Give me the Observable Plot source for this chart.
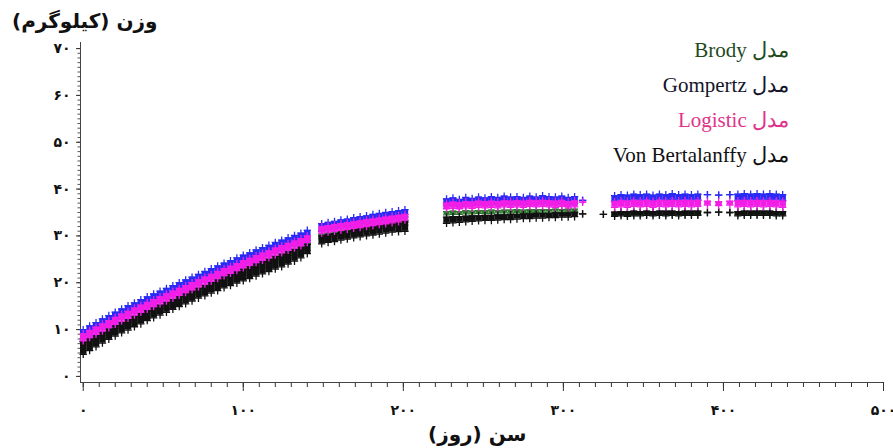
<!DOCTYPE html>
<html>
<head>
<meta charset="utf-8">
<script src="https://cdn.jsdelivr.net/npm/d3@7"></script>
<script src="https://cdn.jsdelivr.net/npm/@observablehq/plot@0.6"></script>
<style>
  body { margin: 0; background: #fff; }
  #wrap { position: relative; width: 893px; height: 448px; overflow: hidden; background: #fff; }
  #chart { position: absolute; left: 0; top: 0; }
  .ttl { position: absolute; font-family: "DejaVu Sans", sans-serif; font-weight: bold; font-size: 20px; color: #111; white-space: nowrap; line-height: 24px; }
  .legend { position: absolute; right: 104px; top: 33px; font-family: "Liberation Serif", "DejaVu Serif", serif; font-size: 21px; line-height: 35px; text-align: right; white-space: nowrap; }
</style>
</head>
<body>
<div id="wrap">
  <div id="chart"></div>
  <div class="ttl" dir="rtl" style="left:12px; top:9px;">وزن (کیلوگرم)</div>
  <div class="ttl" dir="rtl" style="left:428px; top:422px;">سن (روز)</div>
  <div class="legend" dir="rtl">
    <div style="color:#1e4a1e">مدل Brody</div>
    <div style="color:#15152a">مدل Gompertz</div>
    <div style="color:#e0338a">مدل Logistic</div>
    <div style="color:#111">مدل Von Bertalanffy</div>
  </div>
</div>
<script>
// Age (days) of the plotted points
const ages = [
  0,4,8,12,16,20,24,28,32,36,40,44,48,52,56,60,64,68,72,76,80,84,88,92,96,100,104,108,112,116,120,124,128,132,136,140,
  149,153,157,161,165,169,173,177,181,185,189,193,197,201,
  227,231,235,239,243,247,251,255,259,263,267,271,275,279,283,287,291,295,299,303,307,312,325,
  332,336,340,344,348,352,356,360,364,368,372,376,380,384,390,397,404,409,413,417,421,425,429,433,437
];

// Gompertz (blue) – upper / lower edge of predicted weights (kg)
const gompertzHi = [
  10.0,10.8,11.5,12.3,13.0,13.7,14.4,15.1,15.7,16.4,17.0,17.6,18.2,18.8,19.4,20.0,20.6,21.2,21.8,22.4,23.0,23.6,24.2,24.7,25.3,25.9,26.4,27.0,27.5,28.0,28.6,29.1,29.6,30.1,30.6,31.2,
  32.6,32.9,33.1,33.4,33.6,33.9,34.1,34.3,34.6,34.8,35.0,35.2,35.4,35.6,
  37.9,38.1,37.8,38.2,38.0,38.3,38.1,38.4,38.2,38.5,38.3,38.4,38.2,38.5,38.3,38.6,38.4,38.3,38.5,38.2,38.4,37.6,null,
  38.6,38.8,38.7,38.9,38.8,38.9,38.7,38.9,38.8,39.0,38.8,38.9,38.8,38.9,38.8,38.7,38.8,38.9,39.0,38.9,39.0,38.9,39.0,38.9,38.8
];
const gompertzLo = [
  8.0,8.7,9.4,10.1,10.8,11.5,12.2,12.9,13.5,14.2,14.8,15.4,16.0,16.6,17.2,17.8,18.4,19.0,19.6,20.2,20.8,21.4,22.0,22.5,23.1,23.7,24.2,24.8,25.3,25.8,26.4,26.9,27.4,27.9,28.4,29.0,
  31.0,31.3,31.5,31.8,32.0,32.3,32.5,32.7,33.0,33.2,33.4,33.6,33.8,34.0,
  36.4,36.6,36.3,36.7,36.5,36.8,36.6,36.9,36.7,37.0,36.8,36.9,36.7,37.0,36.8,37.1,36.9,36.8,37.0,36.7,36.9,37.6,null,
  37.4,37.6,37.5,37.7,37.6,37.7,37.5,37.7,37.6,37.8,37.6,37.7,37.6,37.7,38.8,38.7,38.8,37.6,37.8,37.7,37.8,37.7,37.8,37.7,37.6
];

// Logistic (magenta)
const logisticHi = [
  9.1,9.8,10.5,11.2,11.9,12.6,13.3,13.9,14.6,15.2,15.8,16.4,17.0,17.6,18.2,18.8,19.4,20.0,20.6,21.2,21.8,22.4,23.0,23.5,24.1,24.7,25.2,25.8,26.3,26.8,27.4,27.9,28.4,28.9,29.4,30.0,
  32.0,32.2,32.4,32.6,32.8,33.0,33.2,33.4,33.6,33.8,34.0,34.2,34.4,34.6,
  37.0,37.2,37.1,37.3,37.2,37.4,37.3,37.4,37.3,37.5,37.4,37.5,37.4,37.6,37.5,37.6,37.5,37.4,37.6,37.3,37.5,37.2,null,
  37.3,37.5,37.4,37.6,37.5,37.6,37.4,37.6,37.5,37.6,37.5,37.6,37.5,37.6,37.4,37.3,37.4,37.5,37.6,37.5,37.6,37.5,37.6,37.5,37.4
];
const logisticLo = [
  7.6,8.3,9.0,9.7,10.4,11.1,11.8,12.4,13.1,13.7,14.3,14.9,15.5,16.1,16.7,17.3,17.9,18.5,19.1,19.7,20.3,20.9,21.5,22.0,22.6,23.2,23.7,24.3,24.8,25.3,25.9,26.4,26.9,27.4,27.9,28.6,
  30.6,30.8,31.0,31.2,31.4,31.6,31.8,32.0,32.2,32.4,32.6,32.8,33.0,33.4,
  35.8,35.9,35.8,36.0,35.9,36.1,36.0,36.1,36.0,36.2,36.1,36.2,36.1,36.3,36.2,36.3,36.2,36.1,36.3,36.0,36.2,37.2,null,
  36.1,36.2,36.1,36.3,36.2,36.3,36.1,36.3,36.2,36.3,36.2,36.3,36.2,36.3,36.6,36.5,36.6,36.2,36.3,36.2,36.3,36.2,36.3,36.2,36.1
];

// Von Bertalanffy (black)
const bertalanffyHi = [
  7.4,8.0,8.7,9.4,10.1,10.8,11.5,12.1,12.8,13.4,14.0,14.6,15.2,15.8,16.4,17.0,17.6,18.2,18.8,19.4,20.0,20.6,21.2,21.7,22.3,22.9,23.4,24.0,24.5,25.0,25.6,26.1,26.6,27.1,27.6,28.2,
  30.0,30.3,30.5,30.8,31.0,31.3,31.5,31.7,32.0,32.2,32.4,32.6,32.8,33.0,
  34.0,34.1,34.1,34.2,34.3,34.3,34.4,34.4,34.5,34.5,34.6,34.6,34.7,34.7,34.8,34.8,34.8,34.9,34.9,34.9,35.0,34.7,34.6,
  35.1,35.2,35.2,35.3,35.2,35.3,35.2,35.3,35.3,35.3,35.2,35.3,35.3,35.3,35.0,35.1,35.0,35.2,35.3,35.3,35.3,35.3,35.3,35.2,35.2
];
const bertalanffyLo = [
  4.7,5.5,6.3,7.1,7.9,8.6,9.3,9.9,10.6,11.2,11.9,12.5,13.1,13.7,14.3,14.9,15.5,16.1,16.7,17.2,17.8,18.3,18.9,19.4,19.9,20.4,20.9,21.4,21.9,22.4,22.9,23.4,24.0,24.6,25.3,26.2,
  28.3,28.6,28.8,29.1,29.3,29.6,29.8,30.0,30.2,30.4,30.6,30.8,30.9,31.0,
  32.7,32.8,32.9,33.0,33.1,33.2,33.3,33.3,33.4,33.5,33.5,33.6,33.7,33.7,33.8,33.8,33.9,33.9,34.0,34.0,34.1,34.7,34.6,
  34.2,34.3,34.2,34.3,34.3,34.4,34.3,34.4,34.3,34.4,34.3,34.4,34.4,34.4,35.0,35.1,35.0,34.3,34.4,34.4,34.4,34.4,34.4,34.3,34.3
];

// Brody (green)
const brodyHi = [
  7.5,8.1,8.8,9.5,10.2,10.9,11.6,12.2,12.9,13.5,14.1,14.7,15.3,15.9,16.5,17.1,17.7,18.3,18.9,19.5,20.1,20.7,21.3,21.8,22.4,23.0,23.5,24.1,24.6,25.1,25.7,26.2,26.7,27.2,27.7,28.4,
  30.4,30.6,30.9,31.1,31.4,31.6,31.8,32.0,32.3,32.5,32.7,32.9,33.1,33.3,
  35.2,35.3,35.2,35.4,35.3,35.4,35.4,35.5,35.4,35.5,35.5,35.6,35.5,35.6,35.6,35.6,35.6,35.7,35.6,35.7,35.7,null,null,
  34.9,35.0,34.9,35.0,35.0,35.1,35.0,35.1,35.0,35.1,35.0,35.1,35.1,35.1,null,null,null,35.0,35.1,35.1,35.1,35.1,35.1,35.0,35.0
];
const brodyLo = [
  6.0,6.7,7.4,8.1,8.8,9.5,10.2,10.8,11.5,12.1,12.7,13.3,13.9,14.5,15.1,15.7,16.3,16.9,17.5,18.1,18.7,19.3,19.9,20.4,21.0,21.6,22.1,22.7,23.2,23.7,24.3,24.8,25.3,25.8,26.3,26.9,
  29.4,29.6,29.9,30.1,30.4,30.6,30.8,31.0,31.3,31.5,31.7,31.9,32.1,32.3,
  34.5,34.6,34.6,34.7,34.7,34.8,34.8,34.8,34.9,34.9,34.9,35.0,35.0,35.0,35.0,35.1,35.1,35.1,35.1,35.2,35.2,null,null,
  34.4,34.5,34.4,34.5,34.5,34.6,34.5,34.6,34.5,34.6,34.5,34.6,34.6,34.6,null,null,null,34.5,34.6,34.6,34.6,34.6,34.6,34.5,34.5
];

// Axis ticks and labels
const xTicks = [0, 100, 200, 300, 400, 500];
const yTicks = [0, 10, 20, 30, 40, 50, 60, 70];
const xMinor = d3.range(0, 501, 10);
const yMinor = d3.range(0, 71, 1);
const xDomain = [-1.7, 500];
const yDomain = [-1.3, 71.3];

const fa = d => String(d).replace(/\d/g, c => "۰۱۲۳۴۵۶۷۸۹"[+c]);

const rowsOf = (lo, hi) => ages.map((a, i) => ({age: a, lo: lo[i], hi: hi[i]})).filter(d => d.lo != null && d.hi != null);

const brody = rowsOf(brodyLo, brodyHi);
const vb = rowsOf(bertalanffyLo, bertalanffyHi);
const gomp = rowsOf(gompertzLo, gompertzHi);
const logi = rowsOf(logisticLo, logisticHi);

const GREEN = "#2f7a2f", BLACK = "#111111", BLUE = "#2a2af5", MAGENTA = "#f21ee6";

function band(rows, color, sw, r) {
  return [
    Plot.ruleX(rows, {x: "age", y1: "lo", y2: "hi", stroke: color, strokeWidth: sw}),
    Plot.dot(rows, {x: "age", y: "hi", symbol: "plus", r, stroke: color, strokeWidth: 1.3}),
    Plot.dot(rows, {x: "age", y: "lo", symbol: "plus", r, stroke: color, strokeWidth: 1.3})
  ];
}

const chart = Plot.plot({
  width: 893,
  height: 448,
  marginLeft: 80,
  marginRight: 10,
  marginTop: 42,
  marginBottom: 66,
  x: {domain: xDomain, label: null},
  y: {domain: yDomain, label: null},
  style: {fontFamily: "DejaVu Sans, sans-serif", background: "#fff"},
  marks: [
    Plot.axisX(xMinor, {tickSize: 5, tickFormat: () => "", stroke: "#333", label: null}),
    Plot.axisX(xTicks, {tickSize: 9, tickPadding: 14, tickFormat: fa, fontSize: 14, fontWeight: "bold", stroke: "#333", fill: "#111", label: null}),
    Plot.axisY(yMinor, {tickSize: 2.5, tickFormat: () => "", stroke: "#555", label: null}),
    Plot.axisY(yTicks, {tickSize: 4, tickPadding: 6, tickFormat: fa, fontSize: 14, fontWeight: "bold", stroke: "#333", fill: "#111", label: null}),
    Plot.ruleX([xDomain[0]], {stroke: "#444", strokeWidth: 1}),
    Plot.ruleY([yDomain[0]], {stroke: "#444", strokeWidth: 1}),
    ...band(brody, GREEN, 6, 2.4),
    ...band(vb, BLACK, 6.5, 2.5),
    ...band(gomp, BLUE, 6.5, 2.5),
    ...band(logi, MAGENTA, 6.5, 2.5)
  ]
});

document.getElementById("chart").appendChild(chart);
</script>
</body>
</html>
